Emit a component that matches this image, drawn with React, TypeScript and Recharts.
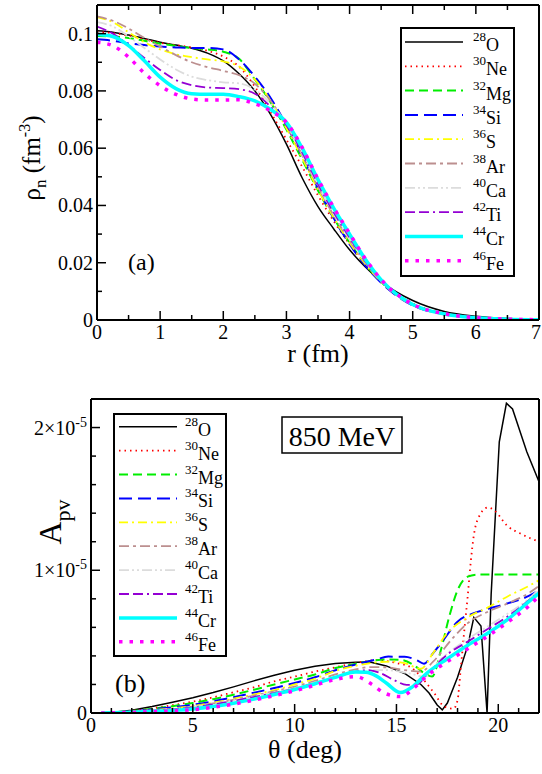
import { LineChart, Line, XAxis, YAxis, Legend } from 'recharts';

const FONT = "'Liberation Serif', 'Times New Roman', Times, Tinos, 'DejaVu Serif', 'Noto Serif', serif";
const FS = { fontFamily: FONT };

// ---- panel (a): neutron density rho_n(r) ----
const R = [0, 0.25, 0.5, 0.75, 1, 1.25, 1.5, 1.75, 2, 2.25, 2.5, 2.75, 3, 3.25, 3.5, 3.75, 4, 4.25, 4.5, 5, 5.5, 6, 6.5, 7];
const RHO_O = [0.101, 0.1005, 0.0995, 0.0983, 0.097, 0.096, 0.0949, 0.0932, 0.0905, 0.086, 0.08, 0.0717, 0.0614, 0.0496, 0.0396, 0.0318, 0.0245, 0.0185, 0.0135, 0.0068, 0.003, 0.0013, 0.0005, 0.0002];
const RHO_NE = [0.1005, 0.1002, 0.0993, 0.098, 0.0968, 0.096, 0.0952, 0.094, 0.092, 0.0885, 0.0815, 0.0725, 0.063, 0.0535, 0.0435, 0.0345, 0.0265, 0.0195, 0.0135, 0.0058, 0.0023, 0.0009, 0.0003, 0.0001];
const RHO_MG = [0.0992, 0.099, 0.0985, 0.0975, 0.0965, 0.0957, 0.095, 0.0945, 0.0937, 0.0912, 0.084, 0.076, 0.0665, 0.056, 0.0452, 0.0355, 0.027, 0.0195, 0.0133, 0.0053, 0.0021, 0.0008, 0.0003, 0.0001];
const RHO_SI = [0.098, 0.0975, 0.0966, 0.096, 0.0955, 0.0952, 0.095, 0.095, 0.0945, 0.091, 0.085, 0.0775, 0.068, 0.0572, 0.046, 0.0355, 0.0265, 0.019, 0.013, 0.0051, 0.002, 0.0008, 0.0003, 0.0001];
const RHO_S = [0.1058, 0.104, 0.1005, 0.097, 0.0945, 0.0928, 0.0918, 0.091, 0.0903, 0.0885, 0.084, 0.0765, 0.067, 0.0565, 0.0455, 0.0357, 0.027, 0.0195, 0.0133, 0.0052, 0.002, 0.0008, 0.0003, 0.0001];
const RHO_AR = [0.106, 0.1045, 0.1018, 0.0985, 0.0955, 0.0925, 0.09, 0.0883, 0.087, 0.0855, 0.0825, 0.0765, 0.068, 0.0575, 0.0465, 0.0365, 0.0278, 0.02, 0.0135, 0.0053, 0.0021, 0.0008, 0.0003, 0.0001];
const RHO_CA = [0.104, 0.1025, 0.099, 0.095, 0.091, 0.0875, 0.085, 0.0838, 0.083, 0.0826, 0.0805, 0.0755, 0.0685, 0.058, 0.047, 0.037, 0.0283, 0.0203, 0.0136, 0.0053, 0.0021, 0.0008, 0.0003, 0.0001];
const RHO_TI = [0.1025, 0.1, 0.096, 0.0915, 0.0873, 0.0838, 0.082, 0.0812, 0.081, 0.0806, 0.079, 0.0745, 0.068, 0.0585, 0.0475, 0.0375, 0.0288, 0.0205, 0.0137, 0.0053, 0.0021, 0.0008, 0.0003, 0.0001];
const RHO_CR = [0.0998, 0.099, 0.0958, 0.0905, 0.0848, 0.0808, 0.079, 0.0788, 0.0788, 0.078, 0.0765, 0.0735, 0.069, 0.06, 0.049, 0.039, 0.03, 0.0212, 0.014, 0.0054, 0.0021, 0.0008, 0.0003, 0.0001];
const RHO_FE = [0.097, 0.0958, 0.0918, 0.0862, 0.0818, 0.0788, 0.0772, 0.0768, 0.0768, 0.0769, 0.0755, 0.073, 0.069, 0.0602, 0.0492, 0.0392, 0.0302, 0.0214, 0.0141, 0.0055, 0.0022, 0.0008, 0.0003, 0.0001];

const R_TICKS = [0, 0.5, 1, 1.5, 2, 2.5, 3, 3.5, 4, 4.5, 5, 5.5, 6, 6.5, 7];
const RHO_TICKS = [0, 0.01, 0.02, 0.03, 0.04, 0.05, 0.06, 0.07, 0.08, 0.09, 0.1];

// ---- panel (b): A_pv(theta), in units of 1e-5 ----
const T_O = [0.5, 1, 2, 3, 4, 5, 6, 7, 8, 9, 10, 11, 12, 13, 13.7, 14.5, 15.4, 16.2, 16.6, 17, 17.25, 17.5, 18, 18.5, 18.8, 19.15, 19.45, 19.65, 20.05, 20.4, 20.7, 21.4, 22];
const A_O = [0, 0.004, 0.02, 0.045, 0.075, 0.107, 0.143, 0.183, 0.225, 0.265, 0.3, 0.327, 0.346, 0.356, 0.358, 0.33, 0.277, 0.2, 0.14, 0.056, 0.022, 0.07, 0.25, 0.47, 0.67, 0.61, 0, 0.83, 1.9, 2.17, 2.13, 1.83, 1.62];
const T_NE = [0.5, 1, 2, 3, 4, 5, 6, 7, 8, 9, 10, 11, 12, 13, 14, 14.5, 15, 15.7, 16.35, 16.85, 17.35, 17.8, 18, 18.15, 18.3, 18.5, 18.65, 18.8, 19, 19.5, 19.8, 20.45, 21.1, 22];
const A_NE = [0, 0.003, 0.015, 0.033, 0.055, 0.08, 0.11, 0.145, 0.18, 0.222, 0.255, 0.29, 0.32, 0.35, 0.37, 0.365, 0.35, 0.32, 0.23, 0.14, 0.045, 0.03, 0.09, 0.3, 0.53, 0.82, 1.06, 1.245, 1.36, 1.44, 1.42, 1.31, 1.256, 1.2];
const T_MG = [0.5, 1, 2, 3, 4, 5, 6, 7, 8, 9, 10, 11, 12, 13, 14, 14.6, 15.3, 15.9, 16.35, 16.75, 17.2, 17.6, 18, 18.5, 19, 20, 21, 22];
const A_MG = [0, 0.003, 0.013, 0.03, 0.048, 0.07, 0.097, 0.128, 0.163, 0.2, 0.235, 0.27, 0.315, 0.345, 0.37, 0.375, 0.37, 0.33, 0.28, 0.255, 0.45, 0.68, 0.86, 0.955, 0.97, 0.97, 0.97, 0.97];
const T_SI = [0.5, 1, 2, 3, 4, 5, 6, 7, 8, 9, 10, 11, 12, 13, 14, 14.6, 15.4, 16, 16.35, 16.8, 17.3, 18, 18.8, 19.5, 20.5, 21.5, 22];
const A_SI = [0, 0.002, 0.011, 0.025, 0.04, 0.058, 0.082, 0.11, 0.142, 0.175, 0.21, 0.25, 0.3, 0.34, 0.375, 0.395, 0.394, 0.37, 0.345, 0.42, 0.51, 0.64, 0.7, 0.73, 0.77, 0.82, 0.86];
const T_S = [0.5, 1, 2, 3, 4, 5, 6, 7, 8, 9, 10, 11, 12, 13, 14, 14.8, 15.4, 16.2, 16.8, 17.5, 18.5, 19.5, 20.5, 21.5, 22];
const A_S = [0, 0.002, 0.009, 0.02, 0.033, 0.048, 0.072, 0.1, 0.13, 0.16, 0.2, 0.24, 0.295, 0.33, 0.355, 0.36, 0.35, 0.31, 0.42, 0.56, 0.67, 0.74, 0.82, 0.89, 0.93];
const T_AR = [0.5, 1, 2, 3, 4, 5, 6, 7, 8, 9, 10, 11, 12, 13, 13.7, 14.5, 15.4, 16.2, 16.8, 17.8, 18.5, 19.5, 20.5, 21.5, 22];
const A_AR = [0, 0.002, 0.008, 0.018, 0.03, 0.045, 0.067, 0.093, 0.122, 0.152, 0.185, 0.225, 0.27, 0.305, 0.322, 0.32, 0.3, 0.29, 0.36, 0.53, 0.63, 0.71, 0.77, 0.84, 0.89];
const T_CA = [0.5, 1, 2, 3, 4, 5, 6, 7, 8, 9, 10, 11, 12, 13, 13.7, 14.5, 15.7, 16.35, 17.2, 18.2, 19.3, 20.5, 21.5, 22];
const A_CA = [0, 0.002, 0.008, 0.017, 0.028, 0.042, 0.063, 0.088, 0.116, 0.145, 0.175, 0.215, 0.255, 0.29, 0.3, 0.3, 0.275, 0.255, 0.38, 0.49, 0.59, 0.7, 0.8, 0.87];
const T_TI = [0.5, 1, 2, 3, 4, 5, 6, 7, 8, 9, 10, 11, 12, 13, 13.6, 14.2, 14.9, 15.5, 16, 16.5, 17.5, 18.5, 19.5, 20.5, 21.5, 22];
const A_TI = [0, 0.002, 0.007, 0.016, 0.026, 0.04, 0.06, 0.085, 0.112, 0.14, 0.17, 0.21, 0.25, 0.29, 0.3, 0.28, 0.23, 0.197, 0.2, 0.27, 0.41, 0.5, 0.59, 0.68, 0.79, 0.85];
const T_CR = [0.5, 1, 2, 3, 4, 5, 6, 7, 8, 9, 10, 11, 12, 13, 13.5, 14, 14.5, 15.2, 15.8, 16.5, 17.5, 18.5, 19.5, 20.5, 21.5, 22];
const A_CR = [0, 0.001, 0.005, 0.011, 0.018, 0.028, 0.045, 0.068, 0.097, 0.13, 0.165, 0.205, 0.25, 0.288, 0.285, 0.26, 0.21, 0.143, 0.185, 0.28, 0.38, 0.475, 0.56, 0.66, 0.78, 0.84];
const T_FE = [0.5, 1, 2, 3, 4, 5, 6, 7, 8, 9, 10, 11, 12, 13, 13.8, 14.4, 15.2, 15.9, 16.5, 17.5, 18.5, 19.5, 20.5, 21.5, 22];
const A_FE = [0, 0.001, 0.004, 0.009, 0.015, 0.023, 0.04, 0.062, 0.09, 0.122, 0.155, 0.195, 0.235, 0.255, 0.2, 0.14, 0.115, 0.18, 0.26, 0.36, 0.45, 0.54, 0.64, 0.75, 0.82];

const THETA_TICKS = [0, 1, 2, 3, 4, 5, 6, 7, 8, 9, 10, 11, 12, 13, 14, 15, 16, 17, 18, 19, 20, 21, 22];
const APV_TICKS = [0, 0.2, 0.4, 0.6, 0.8, 1, 1.2, 1.4, 1.6, 1.8, 2];

// nuclei, in legend order
const NUCLEI = [
  { key: 'o', mass: '28', el: 'O', rho: RHO_O, t: T_O, a: A_O },
  { key: 'ne', mass: '30', el: 'Ne', rho: RHO_NE, t: T_NE, a: A_NE },
  { key: 'mg', mass: '32', el: 'Mg', rho: RHO_MG, t: T_MG, a: A_MG },
  { key: 'si', mass: '34', el: 'Si', rho: RHO_SI, t: T_SI, a: A_SI },
  { key: 's', mass: '36', el: 'S', rho: RHO_S, t: T_S, a: A_S },
  { key: 'ar', mass: '38', el: 'Ar', rho: RHO_AR, t: T_AR, a: A_AR },
  { key: 'ca', mass: '40', el: 'Ca', rho: RHO_CA, t: T_CA, a: A_CA },
  { key: 'ti', mass: '42', el: 'Ti', rho: RHO_TI, t: T_TI, a: A_TI },
  { key: 'cr', mass: '44', el: 'Cr', rho: RHO_CR, t: T_CR, a: A_CR },
  { key: 'fe', mass: '46', el: 'Fe', rho: RHO_FE, t: T_FE, a: A_FE },
];

// line styles (xmgrace-like)
const STYLE: Record<string, { color: string; width: number; dash?: string }> = {
  o: { color: '#000000', width: 1.5 },
  ne: { color: '#ff0000', width: 1.8, dash: '1.5 4' },
  mg: { color: '#00ee00', width: 2, dash: '9 5' },
  si: { color: '#0000ff', width: 2, dash: '13 6' },
  s: { color: '#ffff00', width: 1.8, dash: '9 4 2 4' },
  ar: { color: '#bc8f8f', width: 1.8, dash: '10 4 3 4' },
  ca: { color: '#dcdcdc', width: 1.8, dash: '10 3 2 3 2 3' },
  ti: { color: '#9400d3', width: 1.8, dash: '10 4 10 4 2 4' },
  cr: { color: '#00ffff', width: 3.5 },
  fe: { color: '#ff00ff', width: 3.5, dash: '3.5 7' },
};

const topRows = R.map((r, i) => {
  const row: Record<string, number> = { r };
  NUCLEI.forEach((n) => {
    row[n.key] = n.rho[i];
  });
  return row;
});

const apvData = (n: (typeof NUCLEI)[number]) => n.t.map((t, i) => ({ t, a: n.a[i] }));

// ---- ticks (inward, on all four sides) ----
const isInt = (v: number) => Math.abs(v - Math.round(v)) < 1e-6;
const TK = { stroke: '#000', strokeWidth: 1.5 };

const xTick = (major: (v: number) => boolean, label: ((v: number) => string) | null, dir: number, last = Infinity) =>
  (p: any) => {
    const v = p.payload.value;
    const m = major(v);
    const atEnd = v >= last;
    return (
      <g>
        <line x1={p.x} y1={p.y} x2={p.x} y2={p.y - dir * (m ? 9 : 5)} {...TK} />
        {m && label && (
          <text x={atEnd ? p.x + 2 : p.x} y={p.y + 19} textAnchor={atEnd ? 'end' : 'middle'} fontSize={20}
            style={FS} fill="#000">
            {label(v)}
          </text>
        )}
      </g>
    );
  };

const yTick = (major: (v: number) => boolean, label: ((v: number) => any) | null, dir: number) => (p: any) => {
  const v = p.payload.value;
  const m = major(v);
  return (
    <g>
      <line x1={p.x} y1={p.y} x2={p.x + dir * (m ? 9 : 5)} y2={p.y} {...TK} />
      {m && label && (
        <text x={p.x - 4} y={p.y + 7} textAnchor="end" fontSize={20} style={FS} fill="#000">
          {label(v)}
        </text>
      )}
    </g>
  );
};

const rhoMajor = (v: number) => Math.round(v * 100) % 2 === 0;
const rhoLabel = (v: number) => String(Number(v.toFixed(2)));
const apvLabel = (v: number) =>
  v === 0 ? '0' : (
    <>
      {v}×10<tspan dy={-8} fontSize={14}>-5</tspan>
    </>
  );

const AXIS_LINE = { stroke: '#000', strokeWidth: 2 };

function LegendBox({ w, h, y0, step, x0, x1, tx }: any) {
  return (
    <svg width={w} height={h} style={{ display: 'block', ...FS }}>
      <rect x={1} y={1} width={w - 2} height={h - 2} fill="#fff" stroke="#000" strokeWidth={2} />
      {NUCLEI.map((n, i) => {
        const y = y0 + i * step;
        const s = STYLE[n.key];
        return (
          <g key={n.key}>
            <line x1={x0} x2={x1} y1={y} y2={y} stroke={s.color} strokeWidth={s.width} strokeDasharray={s.dash} />
            <text x={tx} y={y + 9} fontSize={18} style={FS} fill="#000">
              <tspan fontSize={13} dy={-10}>{n.mass}</tspan>
              <tspan dy={10}>{n.el}</tspan>
            </text>
          </g>
        );
      })}
    </svg>
  );
}

// axes get width/height 1 (0 would hide them), margins absorb the extra pixel
function DensityChart() {
  return (
    <LineChart width={542} height={380} data={topRows} margin={{ top: 4, right: 2, left: 96, bottom: 59 }}>
      <XAxis xAxisId="b" dataKey="r" type="number" domain={[0, 7]} ticks={R_TICKS} interval={0} height={1}
        tickSize={0} tickMargin={0} axisLine={AXIS_LINE} tickLine={false}
        tick={xTick(isInt, (v) => String(v), 1, 7)} />
      <XAxis xAxisId="t" orientation="top" dataKey="r" type="number" domain={[0, 7]} ticks={R_TICKS} interval={0}
        height={1} tickSize={0} tickMargin={0} axisLine={AXIS_LINE} tickLine={false} tick={xTick(isInt, null, -1)} />
      <YAxis yAxisId="l" type="number" domain={[0, 0.11]} ticks={RHO_TICKS} interval={0} width={1} tickSize={0}
        tickMargin={0} axisLine={AXIS_LINE} tickLine={false} allowDataOverflow tick={yTick(rhoMajor, rhoLabel, 1)} />
      <YAxis yAxisId="r" orientation="right" type="number" domain={[0, 0.11]} ticks={RHO_TICKS} interval={0}
        width={1} tickSize={0} tickMargin={0} axisLine={AXIS_LINE} tickLine={false} tick={yTick(rhoMajor, null, -1)} />
      {NUCLEI.map((n) => {
        const s = STYLE[n.key];
        return (
          <Line key={n.key} xAxisId="b" yAxisId="l" type="monotone" dataKey={n.key} stroke={s.color}
            strokeWidth={s.width} strokeDasharray={s.dash} dot={false} activeDot={false} isAnimationActive={false} />
        );
      })}
      <Legend layout="vertical" align="center" verticalAlign="middle"
        wrapperStyle={{ left: 400, top: 27, width: 115, height: 250 }}
        content={() => <LegendBox w={115} h={250} y0={15} step={24.3} x0={5} x1={63} tx={73} />} />
    </LineChart>
  );
}

function AsymmetryChart() {
  return (
    <LineChart width={542} height={394} margin={{ top: 18, right: 2, left: 90, bottom: 60 }}>
      <XAxis xAxisId="b" dataKey="t" type="number" domain={[0, 22]} ticks={THETA_TICKS} interval={0} height={1}
        tickSize={0} tickMargin={0} axisLine={AXIS_LINE} tickLine={false}
        tick={xTick((v) => v % 5 === 0, (v) => String(v), 1)} />
      <XAxis xAxisId="t" orientation="top" dataKey="t" type="number" domain={[0, 22]} ticks={THETA_TICKS}
        interval={0} height={1} tickSize={0} tickMargin={0} axisLine={AXIS_LINE} tickLine={false}
        tick={xTick((v) => v % 5 === 0, null, -1)} />
      <YAxis yAxisId="l" type="number" domain={[0, 2.2]} ticks={APV_TICKS} interval={0} width={1} tickSize={0}
        tickMargin={0} axisLine={AXIS_LINE} tickLine={false} allowDataOverflow
        tick={yTick((v) => Number.isInteger(v), apvLabel, 1)} />
      <YAxis yAxisId="r" orientation="right" type="number" domain={[0, 2.2]} ticks={APV_TICKS} interval={0}
        width={1} tickSize={0} tickMargin={0} axisLine={AXIS_LINE} tickLine={false}
        tick={yTick((v) => Number.isInteger(v), null, -1)} />
      {NUCLEI.map((n) => {
        const s = STYLE[n.key];
        return (
          <Line key={n.key} xAxisId="b" yAxisId="l" data={apvData(n)} dataKey="a"
            type={n.key === 'o' ? 'linear' : 'monotone'} stroke={s.color} strokeWidth={s.width}
            strokeDasharray={s.dash} dot={false} activeDot={false} isAnimationActive={false} />
        );
      })}
      <Legend layout="vertical" align="center" verticalAlign="middle"
        wrapperStyle={{ left: 113, top: 33, width: 114, height: 244 }}
        content={() => <LegendBox w={114} h={244} y0={13.7} step={23.9} x0={6} x1={64} tx={72} />} />
    </LineChart>
  );
}

export default function App() {
  return (
    <div style={{ position: 'absolute', left: 0, top: 0, width: 542, height: 774, background: '#fff', ...FS }}>
      <div style={{ position: 'absolute', left: 0, top: 0 }}>
        <DensityChart />
      </div>
      <div style={{ position: 'absolute', left: 0, top: 380 }}>
        <AsymmetryChart />
      </div>
      <svg width={542} height={774}
        style={{ position: 'absolute', left: 0, top: 0, pointerEvents: 'none', ...FS }}>
        <text x={318} y={362} fontSize={26} textAnchor="middle" style={FS}>r (fm)</text>
        <text transform="translate(40,158) rotate(-90)" fontSize={25} textAnchor="middle" style={FS}>
          ρ<tspan dy={6} fontSize={17}>n</tspan>
          <tspan dy={-6}> (fm</tspan>
          <tspan dy={-10} fontSize={16}>-3</tspan>
          <tspan dy={10}>)</tspan>
        </text>
        <text x={128} y={270} fontSize={24} style={FS}>(a)</text>
        <text x={305} y={758} fontSize={26} textAnchor="middle" style={FS}>θ (deg)</text>
        <text transform="translate(61,522) rotate(-90)" fontSize={32} textAnchor="middle" style={FS}>
          A<tspan dy={9} fontSize={22}>pv</tspan>
        </text>
        <text x={115} y={692} fontSize={26} style={FS}>(b)</text>
        <rect x={282} y={417} width={120} height={36} fill="#fff" stroke="#000" strokeWidth={1.5} />
        <text x={342} y={446} fontSize={28} textAnchor="middle" style={FS}>850 MeV</text>
      </svg>
    </div>
  );
}
